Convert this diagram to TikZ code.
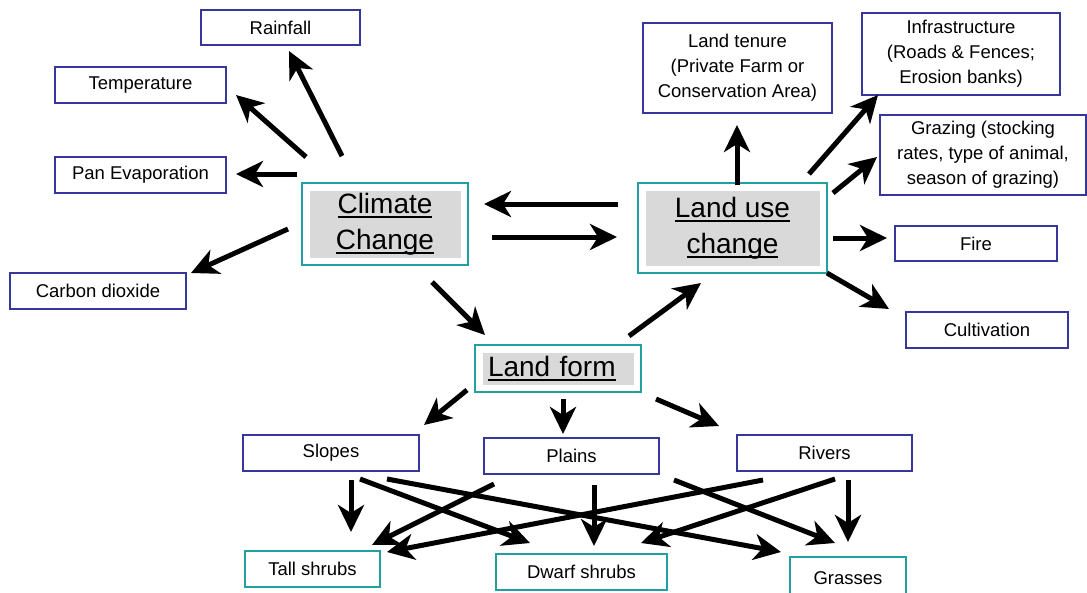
\documentclass[tikz,border=0pt]{standalone}
\usepackage{fontspec}
\setmainfont{Liberation Sans}
\usepackage{tikz}
\usetikzlibrary{calc}
\usetikzlibrary{arrows.meta}
\definecolor{boxblue}{RGB}{55, 55, 155}
\definecolor{boxteal}{RGB}{32, 160, 160}
\definecolor{boxgray}{RGB}{217, 217, 217}
\newcommand{\undl}[1]{\setbox0\hbox{#1}\leavevmode\rlap{\rule[-4.5pt]{\wd0}{1.6pt}}\box0}

\begin{document}
\begin{tikzpicture}[x=1pt, y=-1pt,
    item/.style={draw=boxblue, line width=1.8pt, fill=white, inner sep=0pt, align=center,
                 font=\fontsize{18.5}{25}\selectfont},
    veg/.style={item, draw=boxteal},
    factor/.style={draw=boxteal, line width=1.8pt, fill=white, inner sep=0pt, align=center,
                 font=\fontsize{28}{36}\selectfont,
                 path picture={\fill[boxgray] ([shift={(7.5pt,7.5pt)}]path picture bounding box.south west)
                                rectangle ([shift={(-7.5pt,-7.5pt)}]path picture bounding box.north east);}},
    arrow/.style={line width=5pt, -{Stealth[length=27pt, width=26pt, inset=8pt]}}]
            \useasboundingbox (0,0) rectangle (1087,592);
            \fill[white] (0,0) rectangle (1087,592);
            % climate side
            \node[factor, minimum width=166pt, minimum height=82pt] (cc) at (385,224) {\undl{Climate}\\\undl{Change}};
            \node[item, minimum width=159pt, minimum height=35pt] (rain) at (280.5,27.5) {Rainfall};
            \node[item, minimum width=171pt, minimum height=36pt] (temp) at (140.5,85) {Temperature};
            \node[item, minimum width=171pt, minimum height=36pt] (pan)  at (140.5,175) {Pan Evaporation};
            \node[item, minimum width=176pt, minimum height=36pt] (co2)  at (98,291) {Carbon dioxide};
            % land use side
            \node[factor, minimum width=189pt, minimum height=90pt] (lu) at (732.5,228) {\undl{Land use}\\\undl{change}};
            \node[item, minimum width=189pt, minimum height=90pt] (tenure) at (737.5,68) {Land tenure\\(Private Farm or\\Conservation Area)};
            \node[item, minimum width=198pt, minimum height=82pt] (infra)  at (961,54) {Infrastructure\\(Roads \& Fences;\\Erosion banks)};
            \node[item, minimum width=206pt, minimum height=80pt] (graz)   at (983,155) {Grazing (stocking\\rates, type of animal,\\season of grazing)};
            \node[item, minimum width=162pt, minimum height=35pt] (fire)   at (976,243.5) {Fire};
            \node[item, minimum width=162pt, minimum height=36pt] (cult)   at (987,330) {Cultivation};
            % land form and vegetation
            \node[factor, minimum width=166pt, minimum height=47pt, text width=140pt, align=left] (lf) at (558,368.5) {\undl{Land form}};
            \node[item, minimum width=176pt, minimum height=36pt] (slopes) at (331,453) {Slopes};
            \node[item, minimum width=175pt, minimum height=36pt] (plains) at (571.5,456) {Plains};
            \node[item, minimum width=175pt, minimum height=36pt] (rivers) at (824.5,453) {Rivers};
            \node[veg, minimum width=135pt, minimum height=36pt] (tall)  at (312.5,569) {Tall shrubs};
            \node[veg, minimum width=171pt, minimum height=36pt] (dwarf) at (581.5,572) {Dwarf shrubs};
            \node[veg, minimum width=116pt, minimum height=43pt] (grass) at (848,578.5) {Grasses};
            % arrows
            \draw[arrow] ($(cc)+(-43,-68)$) -- ($(rain)+(8.5,23.5)$);
            \draw[arrow] ($(cc)+(-79,-67)$) -- ($(temp)+(95.5,10)$);
            \draw[arrow] ($(cc)+(-88,-50)$) -- ($(pan)+(95.5,-1)$);
            \draw[arrow] ($(cc)+(-97,5)$)   -- ($(co2)+(93,-18)$);
            \draw[arrow] ($(cc)+(47,58)$)   -- ($(lf)+(-73,-33.5)$);
            \draw[arrow] ($(lu)+(-114.5,-24)$) -- ($(cc)+(99,-20)$);
            \draw[arrow] ($(cc)+(107,13)$)  -- ($(lu)+(-115.5,9)$);
            \draw[arrow] ($(lu)+(4.5,-43)$) -- ($(tenure)+(-0.5,57)$);
            \draw[arrow] ($(lu)+(76.5,-54)$) -- ($(infra)+(-83,41)$);
            \draw[arrow] ($(lu)+(100.5,-35)$) -- ($(graz)+(-106,2)$);
            \draw[arrow] ($(lu)+(100.5,10)$) -- ($(fire)+(-89,-5.5)$);
            \draw[arrow] ($(lu)+(94.5,45)$) -- ($(cult)+(-98,-21)$);
            \draw[arrow] ($(lf)+(71,-32.5)$) -- ($(lu)+(-31.5,55)$);
            \draw[arrow] ($(lf)+(-91,21.5)$) -- ($(slopes)+(93,-28)$);
            \draw[arrow] ($(lf)+(5,30.5)$)  -- ($(plains)+(-8.5,-22)$);
            \draw[arrow] ($(lf)+(98,30.5)$) -- ($(rivers)+(-105.5,-27)$);
            \draw[arrow] ($(slopes)+(20,27)$) -- ($(tall)+(38.5,-37)$);
            \draw[arrow] ($(slopes)+(29,26)$) -- ($(dwarf)+(-51.5,-29)$);
            \draw[arrow] ($(slopes)+(56,26)$) -- ($(grass)+(-67,-26.5)$);
            \draw[arrow] ($(plains)+(-77.5,28)$) -- ($(tall)+(59.5,-24)$);
            \draw[arrow] ($(plains)+(22.5,29)$) -- ($(dwarf)+(12.5,-26)$);
            \draw[arrow] ($(plains)+(102.5,24)$) -- ($(grass)+(-13,-35.5)$);
            \draw[arrow] ($(rivers)+(-61.5,27)$) -- ($(tall)+(74.5,-17)$);
            \draw[arrow] ($(rivers)+(10.5,26)$) -- ($(dwarf)+(59.5,-29)$);
            \draw[arrow] ($(rivers)+(23.5,27)$) -- ($(grass)+(0,-36.5)$);
\end{tikzpicture}
\end{document}
